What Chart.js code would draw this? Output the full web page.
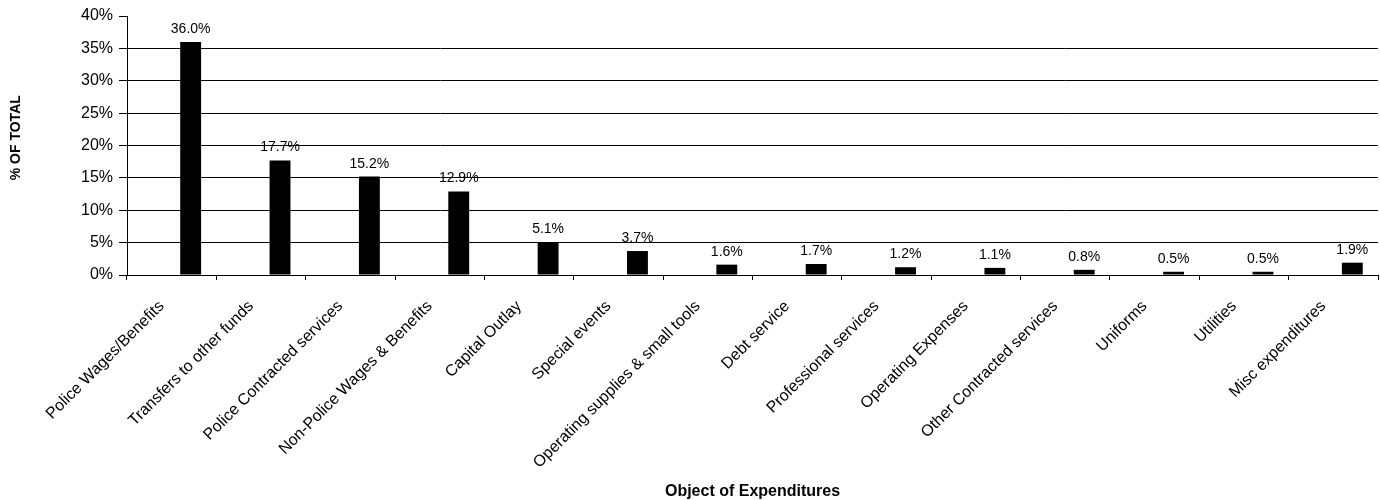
<!DOCTYPE html>
<html>
<head>
<meta charset="utf-8">
<script src="https://cdn.jsdelivr.net/npm/chart.js@4.4.1/dist/chart.umd.min.js"></script>
<style>
  html, body { margin: 0; padding: 0; background: #fff; }
  #wrap { width: 1380px; height: 500px; }
</style>
</head>
<body>
<div id="wrap"><canvas id="chart"></canvas></div>
<script>
"use strict"

// data
const categories = [
  "Police Wages/Benefits", "Transfers to other funds", "Police Contracted services",
  "Non-Police Wages & Benefits", "Capital Outlay", "Special events",
  "Operating supplies & small tools", "Debt service", "Professional services",
  "Operating Expenses", "Other Contracted services", "Uniforms", "Utilities",
  "Misc expenditures"
]
const shares = [36.0, 17.7, 15.2, 12.9, 5.1, 3.7, 1.6, 1.7, 1.2, 1.1, 0.8, 0.5, 0.5, 1.9]
// empty first series, like the spreadsheet this came from (pushes bars right of centre)
const blank = categories.map(() => null)
const yMin = 0
const yMax = 40
const yStep = 5

const FONT = "'Liberation Sans', Arial, sans-serif"

// value labels over the bars
const barLabels = {
  id: "barLabels",
  afterDatasetsDraw(chart) {
    const ctx = chart.ctx
    const meta = chart.getDatasetMeta(1)
    ctx.save()
    ctx.font = "14px " + FONT
    ctx.fillStyle = "#000"
    ctx.textAlign = "center"
    ctx.textBaseline = "alphabetic"
    meta.data.forEach((bar, i) => {
      ctx.fillText(shares[i].toFixed(1) + "%", bar.x, bar.y - 9)
    })
    ctx.restore()
  }
}

new Chart(document.getElementById("chart"), {
  type: "bar",
  data: {
    labels: categories,
    datasets: [
      { label: "blank", data: blank, backgroundColor: "#000" },
      { label: "% of total", data: shares, backgroundColor: "#000", borderWidth: 0 }
    ]
  },
  options: {
    responsive: true,
    maintainAspectRatio: false,
    animation: false,
    devicePixelRatio: 1,
    categoryPercentage: 0.85,
    barPercentage: 0.55,
    layout: { padding: { top: 16, right: 2, left: 0, bottom: 0 } },
    plugins: {
      legend: { display: false },
      tooltip: { enabled: false }
    },
    scales: {
      x: {
        afterFit(scale) { scale.height = 225 },
        grid: { offset: true, drawOnChartArea: false, drawTicks: true, tickLength: 5, color: "#000" },
        border: { display: true, color: "#000", width: 1 },
        ticks: {
          autoSkip: false, maxRotation: 45, minRotation: 45, padding: 17, labelOffset: -10,
          color: "#000", font: { family: FONT, size: 16 }
        },
        title: {
          display: true, text: "Object of Expenditures", color: "#000",
          font: { family: FONT, size: 16, weight: "bold", lineHeight: 1 },
          padding: { top: 4, bottom: 0 }
        }
      },
      y: {
        min: yMin,
        max: yMax,
        afterFit(scale) { scale.width = 127 },
        grid: {
          color: (c) => (c.tick && c.tick.value === yMax ? "rgba(0,0,0,0)" : "#000"),
          tickColor: "#000", tickLength: 8, lineWidth: 1
        },
        border: { display: true, color: "#000", width: 1 },
        ticks: {
          stepSize: yStep, padding: 6, color: "#000",
          font: { family: FONT, size: 16 },
          callback: (v) => v + "%"
        },
        title: {
          display: true, text: "    % OF TOTAL", color: "#000",
          font: { family: FONT, size: 14, weight: "bold" },
          padding: { top: 8, bottom: 0 }
        }
      }
    }
  },
  plugins: [barLabels]
})
</script>
</body>
</html>
